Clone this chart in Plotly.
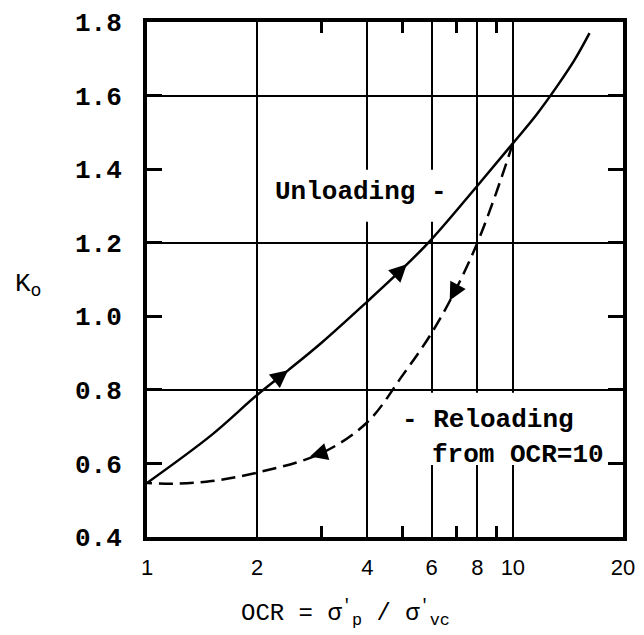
import numpy as np
import plotly.graph_objects as go

# ---- data ----
ocr_unload = [1, 1.5, 2, 2.43, 3, 4, 5, 6, 8, 10, 11.6, 13.2, 14.7, 16.2]
k_unload = [0.547, 0.677, 0.786, 0.853, 0.928, 1.04, 1.13, 1.21, 1.355, 1.47, 1.548, 1.625, 1.695, 1.77]

ocr_reload = [10, 9, 8, 7, 6, 5, 4, 3, 2, 1.5, 1.2, 1]
k_reload = [1.47, 1.335, 1.2, 1.075, 0.955, 0.84, 0.712, 0.628, 0.575, 0.552, 0.545, 0.547]

arrow_ocr_unload = [2.43, 5.13]
arrow_ocr_reload = [6.72, 2.79]

x_tick_vals = [1, 2, 4, 6, 8, 10, 20]
x_tick_text = ["1", "2", "4", "6", "8", "10", "20"]
x_minor_vals = [3, 5, 7, 9]
y_tick_vals = [0.4, 0.6, 0.8, 1.0, 1.2, 1.4, 1.6, 1.8]
y_tick_text = ["0.4", "0.6", "0.8", "1.0", "1.2", "1.4", "1.6", "1.8"]
y_grid_vals = [0.8, 1.2, 1.6]

MONO = "Liberation Mono, Courier New, monospace"

fig = go.Figure()
fig.add_trace(go.Scatter(x=ocr_unload, y=k_unload, mode="lines",
                         line=dict(color="black", width=2.5, shape="spline", smoothing=1.0),
                         showlegend=False, hoverinfo="skip"))
fig.add_trace(go.Scatter(x=ocr_reload, y=k_reload, mode="lines",
                         line=dict(color="black", width=2.5, dash="14px,7px", shape="spline", smoothing=1.0),
                         showlegend=False, hoverinfo="skip"))
# invisible helper trace on a twin x axis that carries the small ticks at 3, 5, 7, 9
fig.add_trace(go.Scatter(x=x_minor_vals, y=[1.0] * len(x_minor_vals), mode="markers",
                         xaxis="x2", marker=dict(size=1, color="rgba(0,0,0,0)"),
                         showlegend=False, hoverinfo="skip"))


def k_at(ocr, xs, ys):
    order = np.argsort(xs)
    lx = np.log10(np.asarray(xs, float)[order])
    ly = np.asarray(ys, float)[order]
    return float(np.interp(np.log10(ocr), lx, ly))


def add_arrow(ocr, xs, ys, forward):
    tail = ocr * (0.95 if forward else 1.05)
    fig.add_annotation(
        x=np.log10(ocr), y=k_at(ocr, xs, ys),
        ax=np.log10(tail), ay=k_at(tail, xs, ys),
        xref="x", yref="y", axref="x", ayref="y",
        showarrow=True, arrowhead=2, arrowsize=1.4, arrowwidth=2.5,
        arrowcolor="black", text="", standoff=0, startstandoff=0,
    )


for o in arrow_ocr_unload:
    add_arrow(o, ocr_unload, k_unload, True)
for o in arrow_ocr_reload:
    add_arrow(o, ocr_reload, k_reload, False)

# white gaps in the grid behind the text labels
for x0, x1, y0, y1 in [(0.437, 0.615, 0.612, 0.713), (0.574, 0.805, 0.140, 0.280)]:
    fig.add_shape(type="rect", xref="paper", yref="paper", x0=x0, x1=x1, y0=y0, y1=y1,
                  fillcolor="white", line=dict(width=0), layer="above")

txt_font = dict(family=MONO, size=26, color="black", weight="bold")
fig.add_annotation(text="Unloading -", x=0.265, y=0.670, xref="paper", yref="paper",
                   xanchor="left", yanchor="middle", showarrow=False, font=txt_font)
fig.add_annotation(text="- Reloading", x=0.531, y=0.227, xref="paper", yref="paper",
                   xanchor="left", yanchor="middle", showarrow=False, font=txt_font)
fig.add_annotation(text="from OCR=10", x=0.595, y=0.159, xref="paper", yref="paper",
                   xanchor="left", yanchor="middle", showarrow=False, font=txt_font)

fig.add_annotation(text="K<sub>o</sub>", x=-0.25, y=0.49, xref="paper", yref="paper",
                   xanchor="center", yanchor="middle", showarrow=False,
                   font=dict(family=MONO, size=26, color="black"))
fig.add_annotation(text="OCR = σ<sup>'</sup><sub>p</sub> / σ<sup>'</sup><sub>vc</sub>",
                   x=0.416, y=-0.147, xref="paper", yref="paper",
                   xanchor="center", yanchor="middle", showarrow=False,
                   font=dict(family=MONO, size=24, color="black"))

fig.update_layout(
    xaxis=dict(
        type="log", range=[0, np.log10(20)],
        tickmode="array", tickvals=x_tick_vals, ticktext=x_tick_text,
        showgrid=True, gridcolor="black", gridwidth=2,
        ticks="inside", ticklen=10, tickwidth=2, tickcolor="black",
        showline=True, linewidth=4, linecolor="black", mirror="ticks",
        tickfont=dict(family="Liberation Sans, Arial, sans-serif", size=22, color="black"),
        ticklabelstandoff=8, zeroline=False, automargin=False,
    ),
    xaxis2=dict(
        type="log", range=[0, np.log10(20)], overlaying="x", anchor="y", side="bottom",
        tickmode="array", tickvals=x_minor_vals, ticktext=[""] * len(x_minor_vals),
        ticks="inside", ticklen=11, tickwidth=2.5, tickcolor="black",
        showline=True, linewidth=4, linecolor="black", mirror="ticks",
        showgrid=False, zeroline=False, automargin=False,
    ),
    yaxis=dict(
        range=[0.4, 1.8],
        tickmode="array", tickvals=y_tick_vals, ticktext=y_tick_text,
        showgrid=False,
        ticks="inside", ticklen=15, tickwidth=2.5, tickcolor="black",
        showline=True, linewidth=4, linecolor="black", mirror="ticks",
        minor=dict(tickmode="array", tickvals=y_grid_vals, ticks="", showgrid=True,
                   gridcolor="black", gridwidth=2),
        tickfont=dict(family=MONO, size=26, color="black", weight="bold"),
        ticklabelstandoff=16, zeroline=False, automargin=False,
    ),
    width=636, height=627,
    margin=dict(l=139, r=21, t=14, b=98, autoexpand=False),
    paper_bgcolor="white", plot_bgcolor="white",
    showlegend=False,
)

fig.write_html("out.html")
